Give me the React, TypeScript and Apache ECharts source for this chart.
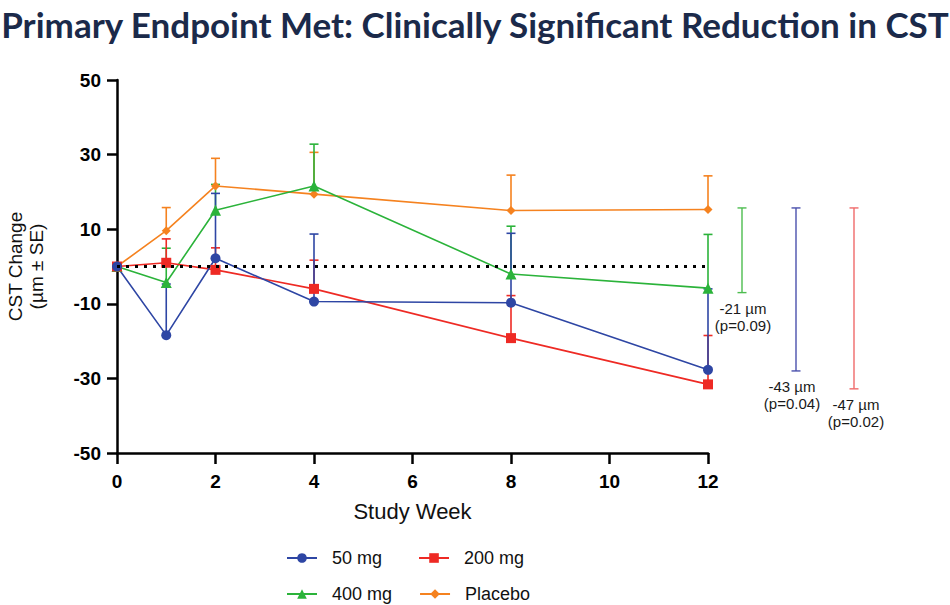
import React, { useEffect, useRef } from "react";
import * as echarts from "echarts";

const weeks = [0, 1, 2, 4, 8, 12];

const mg50 = [0, -18.4, 2.2, -9.4, -9.7, -27.7];
const mg50Upper = [null, -4.7, 19.6, 8.7, 8.9, -6.0];
const mg200 = [0, 1.0, -0.9, -6.0, -19.2, -31.6];
const mg200Upper = [null, 7.4, 5.0, 1.7, -7.8, -18.5];
const mg400 = [0, -4.3, 15.1, 21.6, -2.0, -5.8];
const mg400Upper = [null, 4.9, 22.0, 32.8, 10.8, 8.6];
const placebo = [0, 9.6, 21.6, 19.4, 15.0, 15.3];
const placeboUpper = [null, 15.8, 29.0, 30.6, 24.5, 24.3];

const diffLabels = ["-21 µm\n(p=0.09)", "-43 µm\n(p=0.04)", "-47 µm\n(p=0.02)"];
const diffHigh = [15.7, 15.7, 15.7];
const diffLow = [-7.0, -28.0, -32.8];

const FONT = "'Liberation Sans', Arial, sans-serif";

const seriesDefs = [
  { name: "Placebo", values: placebo, upper: placeboUpper, color: "#F5821F", symbol: "diamond", size: 9 },
  { name: "400 mg", values: mg400, upper: mg400Upper, color: "#2BB33A", symbol: "triangle", size: 11 },
  { name: "200 mg", values: mg200, upper: mg200Upper, color: "#EE2A24", symbol: "rect", size: 10 },
  { name: "50 mg", values: mg50, upper: mg50Upper, color: "#2E46A4", symbol: "circle", size: 10 },
];

const diffColors = ["#4DBD4F", "#4A51AD", "#F06A6A"];
const diffOffsets = [34, 88, 146];
const diffLabelDx = [1, -4, 2];

export default function App() {
  const ref = useRef<HTMLDivElement>(null);
  useEffect(() => {
    if (!ref.current) return;
    const chart = echarts.init(ref.current, undefined, { renderer: "svg" });

    const errorSeries = seriesDefs.map((s) => ({
      type: "custom",
      name: s.name + " SE",
      silent: true,
      z: 2,
      data: weeks
        .map((w, i) => (s.upper[i] == null ? null : [w, s.values[i], s.upper[i]]))
        .filter((d) => d !== null),
      encode: { x: 0, y: [1, 2] },
      renderItem: (params: any, api: any) => {
        const p0 = api.coord([api.value(0), api.value(1)]);
        const p1 = api.coord([api.value(0), api.value(2)]);
        const style = { stroke: s.color, lineWidth: 1.6 };
        return {
          type: "group",
          children: [
            { type: "line", shape: { x1: p0[0], y1: p0[1], x2: p1[0], y2: p1[1] }, style },
            { type: "line", shape: { x1: p1[0] - 4.5, y1: p1[1], x2: p1[0] + 4.5, y2: p1[1] }, style },
          ],
        };
      },
    }));

    const lineSeries = seriesDefs.map((s, k) => ({
      type: "line",
      name: s.name,
      z: 3,
      data: weeks.map((w, i) => [w, s.values[i]]),
      symbol: s.symbol,
      symbolSize: s.size,
      showAllSymbol: true,
      lineStyle: { color: s.color, width: 1.6 },
      itemStyle: { color: s.color },
      emphasis: { disabled: true },
      markLine:
        k === 0
          ? {
              silent: true,
              symbol: ["none", "none"],
              label: { show: false },
              lineStyle: { color: "#000", width: 3, type: [3, 6] },
              data: [{ yAxis: 0 }],
              emphasis: { disabled: true },
            }
          : undefined,
    }));

    const diffSeries = {
      type: "custom",
      name: "diff",
      silent: true,
      clip: false,
      z: 4,
      data: diffLow.map((lo, i) => [12, lo, diffHigh[i], i]),
      encode: { x: 0, y: [1, 2] },
      renderItem: (params: any, api: any) => {
        const idx = api.value(3);
        const pLo = api.coord([12, api.value(1)]);
        const pHi = api.coord([12, api.value(2)]);
        const x = pLo[0] + diffOffsets[idx];
        const style = { stroke: diffColors[idx], lineWidth: 1.4 };
        return {
          type: "group",
          children: [
            { type: "line", shape: { x1: x, y1: pLo[1], x2: x, y2: pHi[1] }, style },
            { type: "line", shape: { x1: x - 4.5, y1: pLo[1], x2: x + 4.5, y2: pLo[1] }, style },
            { type: "line", shape: { x1: x - 4.5, y1: pHi[1], x2: x + 4.5, y2: pHi[1] }, style },
            {
              type: "text",
              style: {
                text: diffLabels[idx],
                x: x + diffLabelDx[idx],
                y: pLo[1] + 7,
                align: "center",
                verticalAlign: "top",
                fontFamily: FONT,
                fontSize: 15,
                lineHeight: 17,
                fill: "#1a1a1a",
              },
            },
          ],
        };
      },
    };

    const legendText = {
      fontFamily: FONT,
      fontSize: 18,
      color: "#111",
      padding: [0, 0, 0, 10],
    };

    chart.setOption({
      animation: false,
      backgroundColor: "#fff",
      title: {
        text: "Primary Endpoint Met: Clinically Significant Reduction in CST",
        left: "center",
        top: 1,
        textStyle: { fontFamily: "Lato, sans-serif", fontWeight: "bold", fontSize: 35, color: "#1B2A4A" },
      },
      grid: { left: 117, right: 242, top: 80, bottom: 152, outerBoundsMode: "none", containLabel: false },
      legend: [
        {
          data: ["50 mg", "200 mg"],
          left: 281,
          top: 544,
          itemWidth: 30,
          itemHeight: 12,
          itemGap: 36,
          textStyle: legendText,
          selectedMode: false,
        },
        {
          data: ["400 mg", "Placebo"],
          left: 281,
          top: 580,
          itemWidth: 30,
          itemHeight: 12,
          itemGap: 27,
          textStyle: legendText,
          selectedMode: false,
        },
      ],
      xAxis: {
        type: "value",
        min: 0,
        max: 12,
        interval: 2,
        name: "Study Week",
        nameLocation: "middle",
        nameGap: 47,
        nameTextStyle: { fontFamily: FONT, fontSize: 22, color: "#111" },
        axisLine: { show: true, onZero: false, lineStyle: { color: "#000", width: 2.5 } },
        axisTick: { show: true, length: 11, lineStyle: { color: "#000", width: 2.5 } },
        axisLabel: {
          fontFamily: FONT,
          fontWeight: "bold",
          fontSize: 19,
          color: "#000",
          margin: 19,
        },
        splitLine: { show: false },
      },
      yAxis: {
        type: "value",
        min: -50,
        max: 50,
        interval: 20,
        name: "CST Change\n(µm ± SE)",
        nameLocation: "middle",
        nameRotate: 90,
        nameGap: 70,
        nameTextStyle: { fontFamily: FONT, fontSize: 19, color: "#111", lineHeight: 21 },
        axisLine: { show: true, onZero: false, lineStyle: { color: "#000", width: 2.5 } },
        axisTick: { show: true, length: 10, lineStyle: { color: "#000", width: 2.5 } },
        axisLabel: { fontFamily: FONT, fontWeight: "bold", fontSize: 19, color: "#000", margin: 16 },
        splitLine: { show: false },
      },
      series: [...errorSeries, ...lineSeries, diffSeries],
    });

    return () => chart.dispose();
  }, []);

  return <div ref={ref} style={{ width: 950, height: 605, position: "absolute", left: 0, top: 0 }} />;
}
